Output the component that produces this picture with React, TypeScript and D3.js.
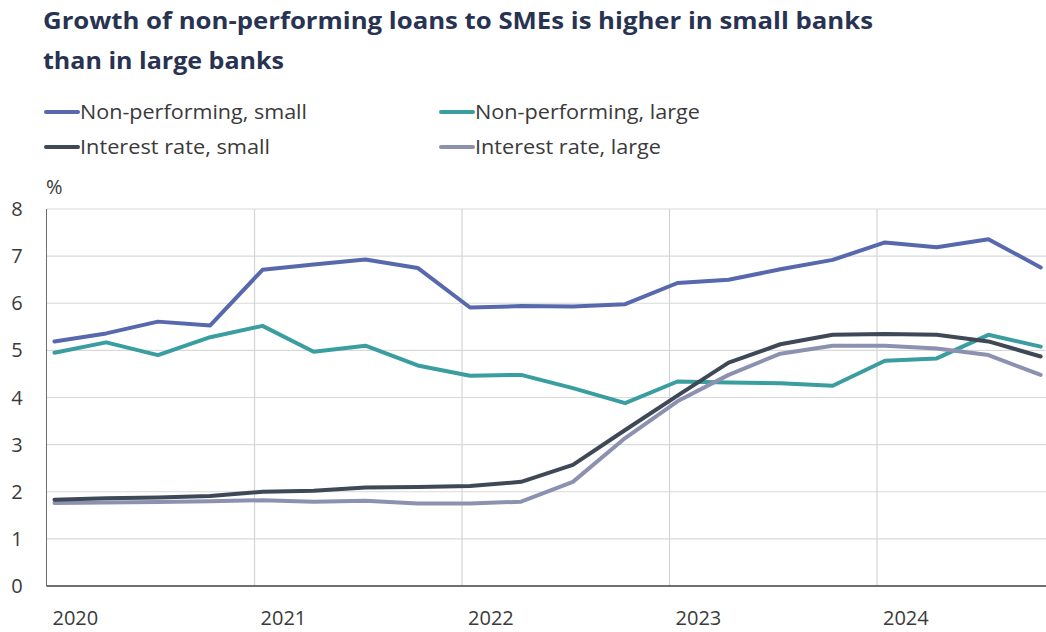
import React from "react";
import * as d3 from "d3";

const quarters = [
  "2020-01-15", "2020-04-15", "2020-07-15", "2020-10-15",
  "2021-01-15", "2021-04-15", "2021-07-15", "2021-10-15",
  "2022-01-15", "2022-04-15", "2022-07-15", "2022-10-15",
  "2023-01-15", "2023-04-15", "2023-07-15", "2023-10-15",
  "2024-01-15", "2024-04-15", "2024-07-15", "2024-10-15",
];

const npSmall = [5.19, 5.36, 5.61, 5.53, 6.71, 6.82, 6.93, 6.75, 5.91, 5.94, 5.93, 5.98, 6.43, 6.5, 6.72, 6.92, 7.29, 7.19, 7.36, 6.76];
const npLarge = [4.95, 5.17, 4.9, 5.28, 5.52, 4.97, 5.1, 4.68, 4.46, 4.48, 4.2, 3.88, 4.34, 4.32, 4.3, 4.25, 4.78, 4.83, 5.33, 5.08];
const irSmall = [1.83, 1.86, 1.88, 1.91, 2.0, 2.02, 2.09, 2.1, 2.12, 2.21, 2.57, 3.31, 4.04, 4.74, 5.13, 5.33, 5.35, 5.33, 5.19, 4.87];
const irLarge = [1.76, 1.77, 1.78, 1.8, 1.82, 1.79, 1.81, 1.75, 1.75, 1.79, 2.21, 3.14, 3.92, 4.48, 4.93, 5.1, 5.1, 5.04, 4.9, 4.48];

const yTicks = [0, 1, 2, 3, 4, 5, 6, 7, 8];
const yearTicks = ["2020", "2021", "2022", "2023", "2024"];

const seriesNames = ["Non-performing, small", "Non-performing, large", "Interest rate, small", "Interest rate, large"];
const seriesColors = ["#5868ad", "#3a9d9f", "#3e4857", "#8d91b0"];
const seriesValues = [npSmall, npLarge, irSmall, irLarge];

const W = 1046;
const H = 632;
const plotLeft = 46.5;
const plotRight = 1046;
const plotTop = 209;
const plotBottom = 586;

export default function App() {
  const parse = d3.timeParse("%Y-%m-%d");
  const dates = quarters.map((q) => parse(q) as Date);
  const x = d3
    .scaleTime()
    .domain([new Date(2020, 0, 1), new Date(2024, 0, 1)])
    .range([plotLeft, 877]);
  const y = d3.scaleLinear().domain([0, 8]).range([plotBottom, plotTop]);

  const line = d3
    .line<number>()
    .x((_, i) => x(dates[i]))
    .y((d) => y(d));

  const order = [1, 3, 2, 0];

  const legendItems = [
    { idx: 0, x: 46, y: 112, tw: 227 },
    { idx: 1, x: 441, y: 112, tw: 225 },
    { idx: 2, x: 46, y: 147, tw: 190 },
    { idx: 3, x: 441, y: 147, tw: 186 },
  ];

  return (
    <svg
      width={W}
      height={H}
      style={{ position: "absolute", left: 0, top: 0, background: "#fff" }}
      fontFamily="'Open Sans', sans-serif"
    >
      <rect x={0} y={0} width={W} height={H} fill="#fff" />
      <text x={43} y={29} fontSize={22.5} fontWeight={700} fill="#283352" textLength={830} lengthAdjust="spacingAndGlyphs">
        Growth of non-performing loans to SMEs is higher in small banks
      </text>
      <text x={43} y={69} fontSize={22.5} fontWeight={700} fill="#283352" textLength={241} lengthAdjust="spacingAndGlyphs">
        than in large banks
      </text>

      {legendItems.map((it) => (
        <g key={it.idx}>
          <line
            x1={it.x}
            x2={it.x + 32}
            y1={it.y}
            y2={it.y}
            stroke={seriesColors[it.idx]}
            strokeWidth={4}
            strokeLinecap="round"
          />
          <text
            x={it.x + 34}
            y={it.y + 7}
            fontSize={20}
            fill="#3a3a3a"
            textLength={it.tw}
            lengthAdjust="spacingAndGlyphs"
          >
            {seriesNames[it.idx]}
          </text>
        </g>
      ))}

      <text x={46} y={194} fontSize={20} fill="#3a3a3a">%</text>

      {yTicks.filter((t) => t > 0).map((t) => (
        <line key={"h" + t} x1={plotLeft} x2={plotRight} y1={y(t)} y2={y(t)} stroke="#d9d9d9" strokeWidth={1.2} />
      ))}
      {yearTicks.slice(1).map((yr) => {
        const xv = x(new Date(+yr, 0, 1));
        return <line key={"v" + yr} x1={xv} x2={xv} y1={plotTop} y2={plotBottom} stroke="#d4d4d8" strokeWidth={1.2} />;
      })}
      <line x1={plotLeft} x2={plotLeft} y1={plotTop} y2={plotBottom} stroke="#6e6e6e" strokeWidth={1} />

      {yTicks.map((t) => (
        <text key={"yt" + t} x={17} y={y(t) + 7} fontSize={20} fill="#3a3a3a" textAnchor="middle">
          {t}
        </text>
      ))}

      {yearTicks.map((yr) => {
        const xv = x(new Date(+yr, 0, 1));
        return (
          <text key={"xt" + yr} x={xv + 6} y={625} fontSize={20} fill="#3a3a3a">
            {yr}
          </text>
        );
      })}

      {order.map((i) => (
        <path
          key={"s" + i}
          d={line(seriesValues[i]) || ""}
          fill="none"
          stroke={seriesColors[i]}
          strokeWidth={4}
          strokeLinejoin="round"
          strokeLinecap="round"
        />
      ))}

      <line x1={plotLeft} x2={plotRight} y1={plotBottom} y2={plotBottom} stroke="#404040" strokeWidth={1.5} />
    </svg>
  );
}
